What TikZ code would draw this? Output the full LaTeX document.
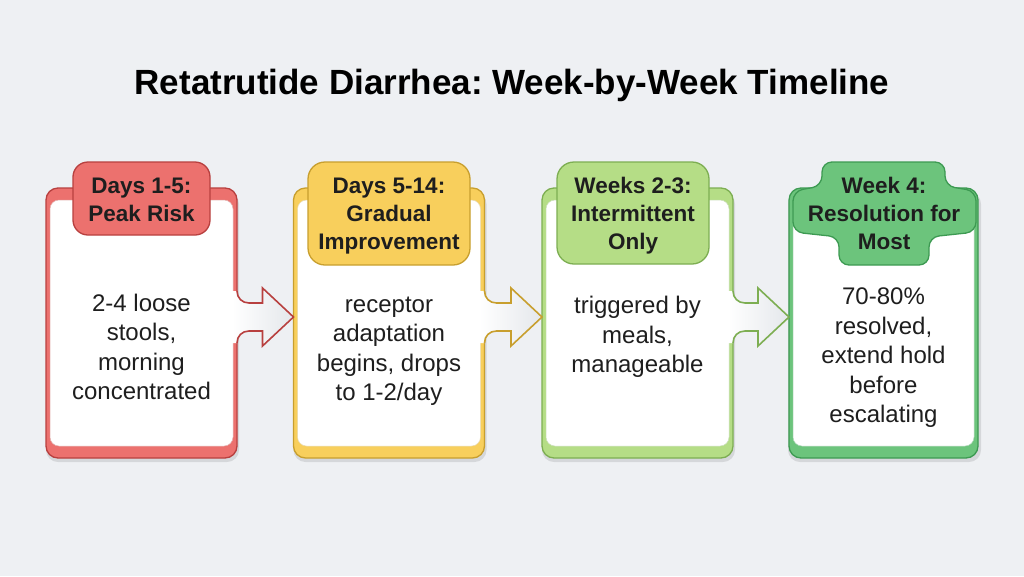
\documentclass[tikz,border=0pt]{standalone}
\usepackage{fontspec}
\setmainfont{Liberation Sans}
\usetikzlibrary{calc}
\frenchspacing
\definecolor{bg}{HTML}{EEF0F3}
\definecolor{arrowgray}{HTML}{E4E7EB}
\definecolor{txt}{HTML}{1E1E1E}
\definecolor{redF}{HTML}{EC716E}
\definecolor{redD}{HTML}{B8403F}
\definecolor{yelF}{HTML}{F8CF5C}
\definecolor{yelD}{HTML}{C89F2E}
\definecolor{lgrF}{HTML}{B5DD86}
\definecolor{lgrD}{HTML}{7DAE52}
\definecolor{grnF}{HTML}{6CC47C}
\definecolor{grnD}{HTML}{3D9A52}
\tikzset{
  stagebox/.style={rectangle, rounded corners=12, minimum width=191, minimum height=270, line width=1.3, outer sep=0, inner sep=0},
  innerbox/.style={rectangle, rounded corners=9, fill=white, minimum width=183, minimum height=246, line width=0.5, outer sep=0, inner sep=0},
  shadowbox/.style={rectangle, rounded corners=12, minimum width=193, minimum height=270, fill=black, opacity=0.10, inner sep=0},
  tabbox/.style={rectangle, line width=1.3, outer sep=0, inner sep=0},
  headtext/.style={align=center, text=txt, inner sep=0, font=\fontsize{22.5}{28}\selectfont\bfseries},
  bodytext/.style={align=center, text=txt, inner sep=0, font=\fontsize{24}{29.5}\selectfont},
  titletext/.style={text=black, inner sep=0, font=\fontsize{35}{40}\selectfont\bfseries}
}
\newcommand\phasearrow[3]{%
  \coordinate (#1-s) at ($(#1.east)+(0,-6)$);
  \coordinate (#1-t) at ($(#2.west)+(0,-6)$);
  \shade[left color=white, right color=arrowgray]
    ($(#1-s)+(-5,-26)$) -- ($(#1-s)+(0,-26)$) .. controls ($(#1-s)+(0,-19)$) and ($(#1-s)+(5,-14)$) .. ($(#1-s)+(12,-14)$)
    -- ($(#1-t)+(-31,-14)$) -- ($(#1-t)+(-31,-29)$) -- (#1-t) -- ($(#1-t)+(-31,29)$) -- ($(#1-t)+(-31,14)$)
    -- ($(#1-s)+(12,14)$) .. controls ($(#1-s)+(5,14)$) and ($(#1-s)+(0,19)$) .. ($(#1-s)+(0,26)$)
    -- ($(#1-s)+(-5,26)$) -- cycle;
  \draw[#3, line width=1.6, line join=miter]
    ($(#1-s)+(0,-26)$) .. controls ($(#1-s)+(0,-19)$) and ($(#1-s)+(5,-14)$) .. ($(#1-s)+(12,-14)$)
    -- ($(#1-t)+(-31,-14)$) -- ($(#1-t)+(-31,-29)$) -- (#1-t) -- ($(#1-t)+(-31,29)$) -- ($(#1-t)+(-31,14)$)
    -- ($(#1-s)+(12,14)$) .. controls ($(#1-s)+(5,14)$) and ($(#1-s)+(0,19)$) .. ($(#1-s)+(0,26)$);
}
\begin{document}
\begin{tikzpicture}[x=1pt,y=-1pt]
\fill[bg] (0,0) rectangle (1024,576);
\useasboundingbox (0,0) rectangle (1024,576);

% title
\node[titletext, anchor=base] (title) at (512,94) {Retatrutide Diarrhea: Week-by-Week Timeline};

% shadows
\foreach \cx in {142.5,390,638.5,884.5} {
  \node[shadowbox] at (\cx,327) {};
}

% stage boxes
\node[stagebox, fill=redF, draw=redD] (b1) at (141.5,323) {};
\node[innerbox, draw=redD!40] (b1i) at (141.5,323) {};
\node[stagebox, fill=yelF, draw=yelD] (b2) at (389,323) {};
\node[innerbox, draw=yelD!40] (b2i) at (389,323) {};
\node[stagebox, fill=lgrF, draw=lgrD] (b3) at (637.5,323) {};
\node[innerbox, draw=lgrD!40] (b3i) at (637.5,323) {};
\node[stagebox, fill=grnF, draw=grnD, minimum width=189] (b4) at (883.5,323) {};
\node[innerbox, draw=grnD!40, minimum width=181] (b4i) at (883.5,323) {};

% connectors
\phasearrow{b1}{b2}{redD}
\phasearrow{b2}{b3}{yelD}
\phasearrow{b3}{b4}{lgrD}

% header tabs
\node[tabbox, fill=redF, draw=redD, rounded corners=15, minimum width=137, minimum height=73] (h1) at (141.5,198.5) {};
\node[tabbox, fill=yelF, draw=yelD, rounded corners=17, minimum width=162, minimum height=103] (h2) at (389,213.5) {};
\node[tabbox, fill=lgrF, draw=lgrD, rounded corners=17, minimum width=152, minimum height=102] (h3) at (633,213) {};
\draw[fill=grnF, draw=grnD, line width=1.3, rounded corners=10]
  (822,162) -- (945,162) -- (945,186) -- (976,191) -- (976,232) -- (929,237) -- (929,265)
  -- (839,265) -- (839,237) -- (793,232) -- (793,191) -- (822,186) -- cycle;
\coordinate (h4) at (884,213.5);

% header texts
\node[headtext] (h1t) at (141.5,200) {Days 1-5:\\Peak Risk};
\node[headtext] (h2t) at (389,216) {Days 5-14:\\Gradual\\Improvement};
\node[headtext] (h3t) at (633,216) {Weeks 2-3:\\Intermittent\\Only};
\node[headtext] (h4t) at (884,213) {Week 4:\\Resolution for\\Most};

% body texts
\node[bodytext] (t1) at (141.5,347) {2-4 loose\\stools,\\morning\\concentrated};
\node[bodytext] (t2) at (389,351) {receptor\\adaptation\\begins, drops\\to 1-2/day};
\node[bodytext] (t3) at (637.5,337) {triggered by\\meals,\\manageable};
\node[bodytext] (t4) at (883.5,358) {70-80\%\\resolved,\\extend hold\\before\\escalating};
\end{tikzpicture}
\end{document}
